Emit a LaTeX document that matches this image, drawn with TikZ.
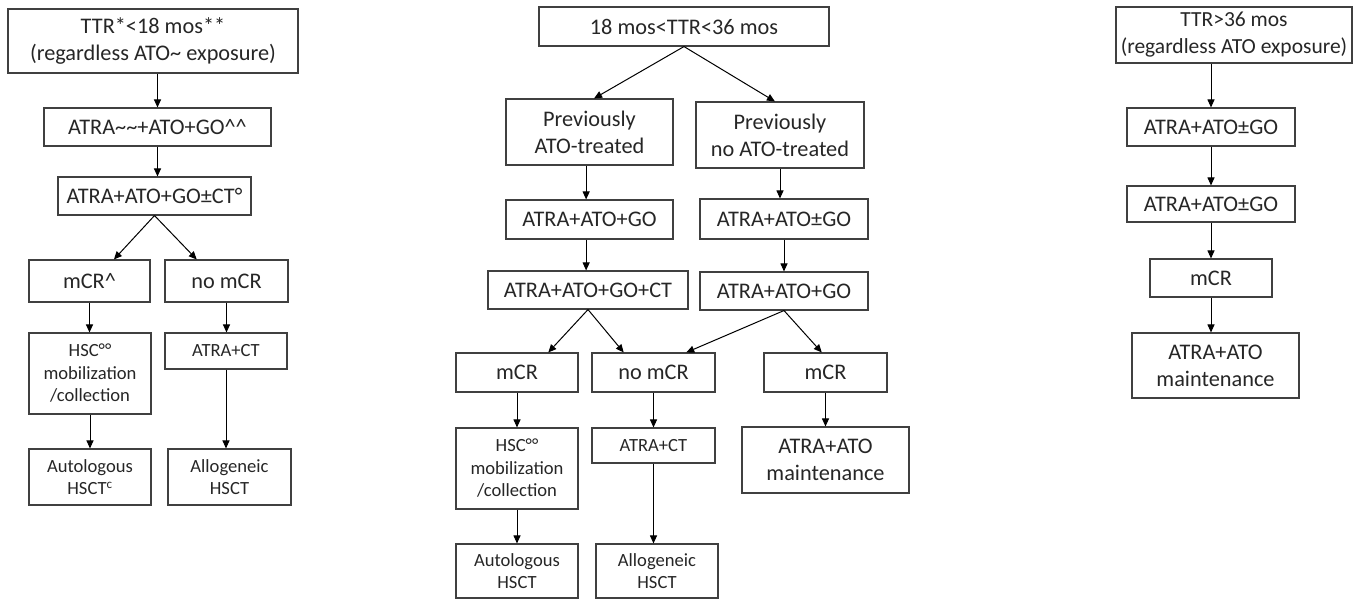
\documentclass[tikz,border=0pt]{standalone}
\usepackage{fontspec}
\setmainfont{Carlito}
\usetikzlibrary{arrows.meta,calc}
\tikzset{
 box/.style={draw=black!75, line width=1.1pt, text=black!85, align=center, inner sep=0.5pt, font=\fontsize{22.3}{27}\selectfont},
 sbox/.style={box, font=\fontsize{18.6}{22.5}\selectfont},
 arr/.style={draw=black, line width=1pt, -{Triangle[length=8pt,width=7pt]}},
}
\begin{document}
\begin{tikzpicture}[x=1pt,y=-1pt]
\useasboundingbox (0,0) rectangle (1355,600);
% ---------- left column ----------
\node[box, minimum width=290pt, minimum height=64pt] (L1) at (153,41) {TTR*<18 mos**\\(regardless ATO\textasciitilde{} exposure)};
\node[box, minimum width=227pt, minimum height=38pt] (L2) at (157.5,127) {ATRA\textasciitilde\textasciitilde+ATO+GO\textasciicircum\textasciicircum};
\node[box, minimum width=193pt, minimum height=38pt] (L3) at (154.5,196) {ATRA+ATO+GO±CT°};
\node[box, minimum width=121pt, minimum height=42pt] (L4a) at (89.5,281) {mCR\textasciicircum};
\node[box, minimum width=123pt, minimum height=42pt] (L4b) at (226.5,281) {no mCR};
\node[sbox, minimum width=122pt, minimum height=81pt] (L5a) at (90,373.5) {HSC°°\\mobilization\\/collection};
\node[sbox, minimum width=122pt, minimum height=36pt] (L5b) at (226,351) {ATRA+CT};
\node[sbox, minimum width=122pt, minimum height=56pt] (L6a) at (90,477) {Autologous\\HSCT\textsuperscript{c}};
\node[sbox, minimum width=123pt, minimum height=56pt] (L6b) at (229.5,477) {Allogeneic\\HSCT};
\draw[arr] (L2.north |- L1.south) -- (L2.north);
\draw[arr] (L2.south) -- (L2.south |- L3.north);
\draw[arr] (L3.south) -- ($(L4a.north west)!0.7!(L4a.north east)$);
\draw[arr] (L3.south) -- ($(L4b.north west)!0.26!(L4b.north east)$);
\draw[arr] (L4a.south) -- (L4a.south |- L5a.north);
\draw[arr] (L4b.south) -- (L4b.south |- L5b.north);
\draw[arr] (L5a.south) -- (L5a.south |- L6a.north);
\draw[arr] (L5b.south) -- (L5b.south |- L6b.north);
% ---------- middle column ----------
\node[box, minimum width=290pt, minimum height=39pt] (M1) at (684,26.5) {18 mos<TTR<36 mos};
\node[box, minimum width=167pt, minimum height=66pt] (M2a) at (589.5,132) {Previously\\ATO-treated};
\node[box, minimum width=168pt, minimum height=66pt] (M2b) at (780,135) {Previously\\no ATO-treated};
\node[box, minimum width=167pt, minimum height=39pt] (M3a) at (589.5,219.5) {ATRA+ATO+GO};
\node[box, minimum width=168pt, minimum height=40pt] (M3b) at (784,219) {ATRA+ATO±GO};
\node[box, minimum width=200pt, minimum height=38pt] (M4a) at (588,290) {ATRA+ATO+GO+CT};
\node[box, minimum width=168pt, minimum height=38pt] (M4b) at (784,291) {ATRA+ATO+GO};
\node[box, minimum width=122pt, minimum height=39pt] (M5a) at (517,372.5) {mCR};
\node[box, minimum width=123pt, minimum height=39pt] (M5b) at (653.5,372.5) {no mCR};
\node[box, minimum width=123pt, minimum height=39pt] (M5c) at (825.5,372.5) {mCR};
\node[sbox, minimum width=122pt, minimum height=81pt] (M6a) at (517,468.5) {HSC°°\\mobilization\\/collection};
\node[sbox, minimum width=123pt, minimum height=35pt] (M6b) at (653.5,445.5) {ATRA+CT};
\node[box, minimum width=167pt, minimum height=66pt] (M6c) at (825.5,460) {ATRA+ATO\\maintenance};
\node[sbox, minimum width=122pt, minimum height=54pt] (M7a) at (517,571) {Autologous\\HSCT};
\node[sbox, minimum width=122pt, minimum height=54pt] (M7b) at (657,571) {Allogeneic\\HSCT};
\draw[arr] (M1.south) -- ($(M2a.north west)!0.527!(M2a.north east)$);
\draw[arr] (M1.south) -- ($(M2b.north west)!0.47!(M2b.north east)$);
\draw[arr] ($(M2a.south west)!0.48!(M2a.south east)$) coordinate (m2as) -- (m2as |- M3a.north);
\draw[arr] (M2b.south) -- (M2b.south |- M3b.north);
\draw[arr] (m2as |- M3a.south) -- (m2as |- M4a.north);
\draw[arr] (M3b.south) -- (M3b.south |- M4b.north);
\draw[arr] (M4a.south) -- ($(M5a.north west)!0.754!(M5a.north east)$);
\draw[arr] (M4a.south) -- ($(M5b.north west)!0.26!(M5b.north east)$);
\draw[arr] (M4b.south) -- ($(M5b.north west)!0.764!(M5b.north east)$);
\draw[arr] (M4b.south) -- ($(M5c.north west)!0.47!(M5c.north east)$);
\draw[arr] (M5a.south) -- (M5a.south |- M6a.north);
\draw[arr] (M5b.south) -- (M5b.south |- M6b.north);
\draw[arr] (M5c.south) -- (M5c.south |- M6c.north);
\draw[arr] (M6a.south) -- (M6a.south |- M7a.north);
\draw[arr] (M6b.south) -- (M6b.south |- M7b.north);
% ---------- right column ----------
\node[box, font=\fontsize{21.5}{27}\selectfont, minimum width=236pt, minimum height=56pt] (R1) at (1234,35) {TTR>36 mos\\(regardless ATO exposure)};
\node[box, minimum width=168pt, minimum height=38pt] (R2) at (1211,127) {ATRA+ATO±GO};
\node[box, minimum width=168pt, minimum height=36pt] (R3) at (1211,204) {ATRA+ATO±GO};
\node[box, minimum width=122pt, minimum height=38pt] (R4) at (1211,278) {mCR};
\node[box, minimum width=167pt, minimum height=65pt] (R5) at (1215.5,365.5) {ATRA+ATO\\maintenance};
\draw[arr] (R2.north |- R1.south) -- (R2.north);
\draw[arr] (R2.south) -- (R2.south |- R3.north);
\draw[arr] (R3.south) -- (R3.south |- R4.north);
\draw[arr] (R4.south) -- (R4.south |- R5.north);
\end{tikzpicture}
\end{document}
